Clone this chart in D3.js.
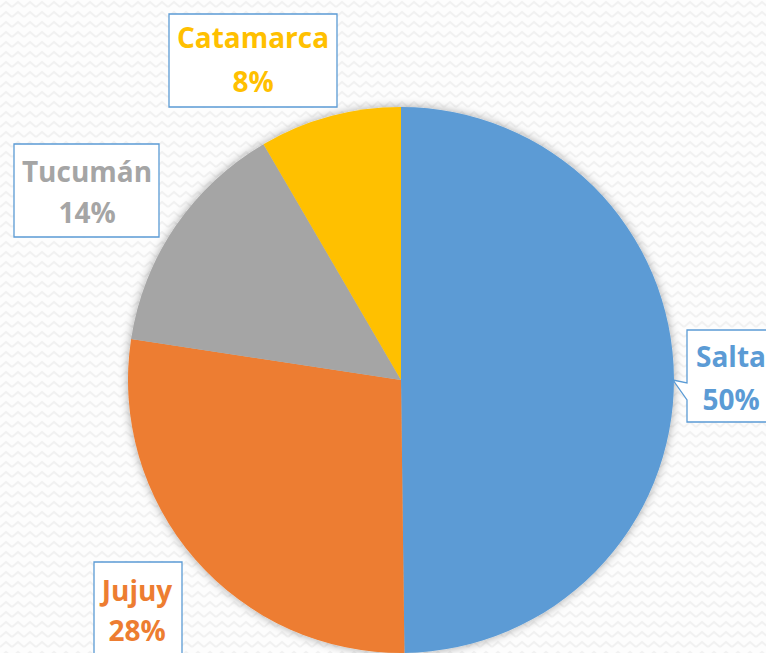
<!DOCTYPE html>
<html>
<head>
<meta charset="utf-8">
<script src="https://cdn.jsdelivr.net/npm/d3@7/dist/d3.min.js"></script>
<style>
  html, body { margin: 0; padding: 0; background: #fff; }
  svg { display: block; }
  text { font-family: "Open Sans", "Noto Sans", sans-serif; font-weight: 700; }
</style>
</head>
<body>
<svg id="chart" width="766" height="653"></svg>
<script>
// ---- data ----
const categories = ["Salta", "Jujuy", "Tucumán", "Catamarca"];
const values = [49.8, 27.6, 14.2, 8.4];
const percentLabels = ["50%", "28%", "14%", "8%"];
const colors = ["#5b9bd5", "#ed7d31", "#a5a5a5", "#ffc000"];

// ---- layout ----
const W = 766, H = 653;
const cx = 401, cy = 380, R = 273;
const boxes = {
  "Salta":     { x: 687, y: 330, w: 96,  h: 92, tx: 731, b1: 367, b2: 410, pointer: true },
  "Jujuy":     { x: 94,  y: 562, w: 88,  h: 100, tx: 137, b1: 601, b2: 641 },
  "Tucumán":   { x: 14,  y: 144, w: 145, h: 93, tx: 87,  b1: 182, b2: 223 },
  "Catamarca": { x: 169, y: 14,  w: 168, h: 93, tx: 253, b1: 48,  b2: 92 }
};

const svg = d3.select("#chart");
const defs = svg.append("defs");

// zigzag background pattern
const pat = defs.append("pattern")
  .attr("id", "zig").attr("patternUnits", "userSpaceOnUse")
  .attr("width", 12).attr("height", 10);
pat.append("rect").attr("width", 12).attr("height", 10).attr("fill", "#fdfdfd");
pat.append("path").attr("d", "M0,7 L6,2 L12,7")
  .attr("fill", "none").attr("stroke", "#f1f1f1").attr("stroke-width", 2);

svg.append("rect").attr("width", W).attr("height", H).attr("fill", "url(#zig)");

// soft shadow
const f = defs.append("filter").attr("id", "shadow")
  .attr("x", "-10%").attr("y", "-10%").attr("width", "120%").attr("height", "120%");
f.append("feDropShadow").attr("dx", 0).attr("dy", 0).attr("stdDeviation", 5)
  .attr("flood-color", "#000").attr("flood-opacity", 0.35);

const pie = d3.pie().sort(null).value(d => d)(values);
const arc = d3.arc().innerRadius(0).outerRadius(R);

const g = svg.append("g").attr("transform", `translate(${cx},${cy})`)
  .attr("filter", "url(#shadow)");
g.selectAll("path").data(pie).join("path")
  .attr("d", arc)
  .attr("fill", (d, i) => colors[i]);

// labels
categories.forEach((c, i) => {
  const b = boxes[c];
  let d;
  if (b.pointer) {
    d = `M${b.x},${b.y} H${b.x + b.w} V${b.y + b.h} H${b.x} V400 L673,380 L${b.x},383 Z`;
  } else {
    d = `M${b.x},${b.y} H${b.x + b.w} V${b.y + b.h} H${b.x} Z`;
  }
  svg.append("path").attr("d", d)
    .attr("fill", "#ffffff").attr("stroke", "#5b9bd5").attr("stroke-width", 1.3);
  svg.append("text").attr("x", b.tx).attr("y", b.b1)
    .attr("text-anchor", "middle").attr("font-size", 28).attr("fill", colors[i])
    .text(c);
  svg.append("text").attr("x", b.tx).attr("y", b.b2)
    .attr("text-anchor", "middle").attr("font-size", 28).attr("fill", colors[i])
    .text(percentLabels[i]);
});
</script>
</body>
</html>
